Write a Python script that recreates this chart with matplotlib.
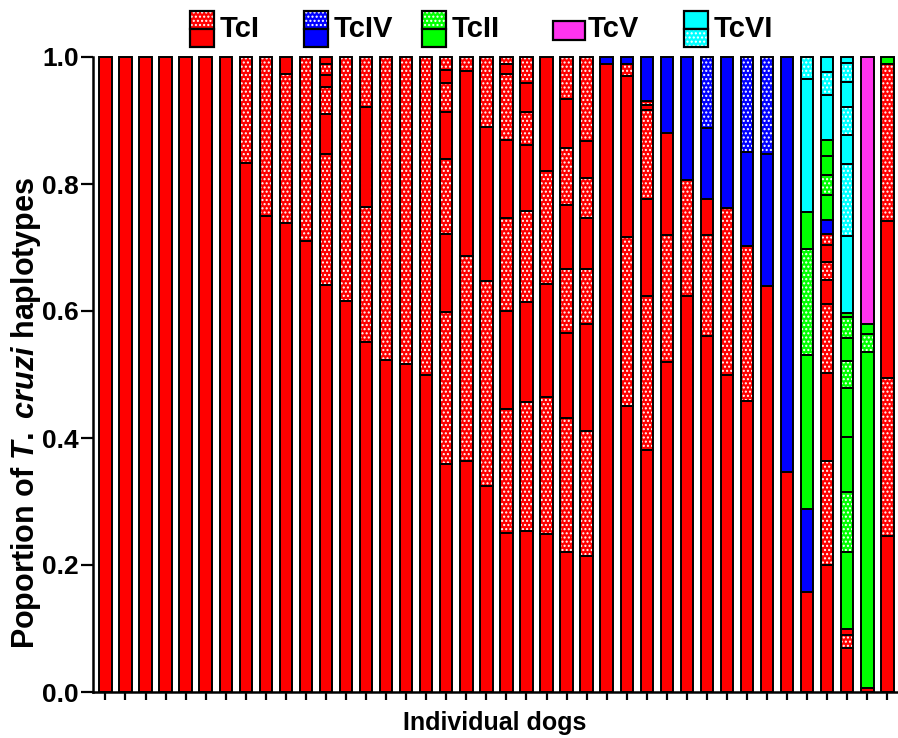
import numpy as np
import matplotlib
matplotlib.use('Agg')
import matplotlib.pyplot as plt
from matplotlib.patches import Rectangle

plt.rcParams['font.family'] = ['Liberation Sans', 'DejaVu Sans']
plt.rcParams['font.weight'] = 'bold'
plt.rcParams['mathtext.fontset'] = 'custom'
plt.rcParams['mathtext.it'] = 'Liberation Sans:italic:bold'
plt.rcParams['mathtext.rm'] = 'Liberation Sans:bold'
plt.rcParams['hatch.linewidth'] = 1.0

# haplotype code of each stacked segment, bottom to top
# upper-case = solid fill, lower-case = dotted fill
types = [
    ['I'], ['I'], ['I'], ['I'], ['I'], ['I'], ['I'],
    ['I', 'i'],
    ['I', 'i'],
    ['I', 'i', 'I'],
    ['I', 'i'],
    ['I', 'i', 'I', 'i', 'I', 'i', 'I'],
    ['I', 'i'],
    ['I', 'i', 'I', 'i'],
    ['I', 'i'],
    ['I', 'i'],
    ['I', 'i'],
    ['I', 'i', 'I', 'i', 'I', 'i', 'I', 'i'],
    ['I', 'i', 'I', 'i'],
    ['I', 'i', 'I', 'i'],
    ['I', 'i', 'I', 'i', 'I', 'i', 'I', 'i'],
    ['I', 'i', 'I', 'i', 'I', 'i', 'I', 'i'],
    ['I', 'i', 'I', 'i', 'I'],
    ['I', 'i', 'I', 'i', 'I', 'i', 'I', 'i'],
    ['I', 'i', 'I', 'i', 'I', 'i', 'I', 'i'],
    ['I', 'IV'],
    ['I', 'i', 'I', 'i', 'IV'],
    ['I', 'i', 'I', 'i', 'I', 'i', 'IV'],
    ['I', 'i', 'I', 'IV'],
    ['I', 'i', 'IV'],
    ['I', 'i', 'I', 'IV', 'iv'],
    ['I', 'i', 'IV'],
    ['I', 'i', 'IV', 'iv'],
    ['I', 'IV', 'iv'],
    ['I', 'IV'],
    ['I', 'IV', 'II', 'ii', 'II', 'VI', 'vi'],
    ['I', 'i', 'I', 'i', 'I', 'i', 'I', 'i', 'IV', 'II', 'ii', 'II', 'II', 'VI', 'vi', 'VI'],
    ['I', 'i', 'I', 'II', 'ii', 'II', 'II', 'ii', 'II', 'ii', 'II', 'VI', 'vi', 'VI', 'vi', 'VI', 'vi', 'VI'],
    ['I', 'II', 'ii', 'II', 'V'],
    ['I', 'i', 'I', 'i', 'II'],
]

# cumulative proportion at the top of each segment
cum = [
    [1.0], [1.0], [1.0], [1.0], [1.0], [1.0], [1.0],
    [0.833, 1.0],
    [0.750, 1.0],
    [0.738, 0.974, 1.0],
    [0.710, 1.0],
    [0.641, 0.847, 0.910, 0.952, 0.972, 0.989, 1.0],
    [0.616, 1.0],
    [0.551, 0.763, 0.922, 1.0],
    [0.523, 1.0],
    [0.517, 1.0],
    [0.499, 1.0],
    [0.359, 0.598, 0.722, 0.839, 0.914, 0.959, 0.980, 1.0],
    [0.364, 0.686, 0.978, 1.0],
    [0.324, 0.647, 0.890, 1.0],
    [0.251, 0.445, 0.600, 0.747, 0.870, 0.973, 0.989, 1.0],
    [0.254, 0.456, 0.614, 0.758, 0.861, 0.914, 0.959, 1.0],
    [0.249, 0.464, 0.642, 0.821, 1.0],
    [0.220, 0.432, 0.566, 0.666, 0.767, 0.856, 0.934, 1.0],
    [0.214, 0.411, 0.579, 0.666, 0.747, 0.809, 0.868, 1.0],
    [0.989, 1.0],
    [0.450, 0.717, 0.970, 0.989, 1.0],
    [0.381, 0.624, 0.777, 0.917, 0.924, 0.930, 1.0],
    [0.520, 0.720, 0.881, 1.0],
    [0.624, 0.807, 1.0],
    [0.560, 0.719, 0.776, 0.888, 1.0],
    [0.500, 0.762, 1.0],
    [0.458, 0.702, 0.851, 1.0],
    [0.639, 0.847, 1.0],
    [0.347, 1.0],
    [0.158, 0.288, 0.531, 0.697, 0.756, 0.966, 1.0],
    [0.200, 0.363, 0.503, 0.611, 0.649, 0.677, 0.704, 0.722, 0.744, 0.783, 0.814, 0.844, 0.870, 0.940, 0.977, 1.0],
    [0.069, 0.090, 0.099, 0.221, 0.315, 0.402, 0.478, 0.522, 0.557, 0.591, 0.597, 0.718, 0.831, 0.877, 0.922, 0.960, 0.990, 1.0],
    [0.006, 0.536, 0.563, 0.580, 1.0],
    [0.246, 0.494, 0.742, 0.989, 1.0],
]

colors = {'I': '#ff0000', 'IV': '#0000ff', 'II': '#00ff00', 'V': '#ff33ee', 'VI': '#00ffff'}
legend_names = ['TcI', 'TcIV', 'TcII', 'TcV', 'TcVI']

W, H = 898, 738
fig = plt.figure(figsize=(W / 100, H / 100), dpi=100)
ax = fig.add_axes([93 / W, 46 / H, 804 / W, 635 / H])

width = 0.62
xs, bots, hts, kinds = [], [], [], []
for i, (t, c) in enumerate(zip(types, cum)):
    tops = np.array(c)
    bottoms = np.concatenate([[0], tops[:-1]])
    for k, b, top in zip(t, bottoms, tops):
        xs.append(i)
        bots.append(b)
        hts.append(top - b)
        kinds.append(k)
xs = np.array(xs)
bots = np.array(bots)
hts = np.array(hts)
kinds = np.array(kinds)

for k in ['I', 'i', 'IV', 'iv', 'II', 'ii', 'V', 'VI', 'vi']:
    m = kinds == k
    if not m.any():
        continue
    dotted = k.islower()
    ax.bar(xs[m], hts[m], bottom=bots[m], width=width, color=colors[k.upper()],
           edgecolor='white', linewidth=0, hatch='....' if dotted else None)

ax.bar(xs, hts, bottom=bots, width=width, fill=False, edgecolor='black',
       linewidth=1.4, clip_on=False)

ax.set_xlim(-0.62, 39.48)
ax.set_ylim(0, 1.0)
ax.set_xticks(np.arange(len(types)))
ax.set_xticklabels([])
ax.set_yticks([0, 0.2, 0.4, 0.6, 0.8, 1.0])
ax.set_yticklabels(['0.0', '0.2', '0.4', '0.6', '0.8', '1.0'], fontsize=19, fontweight='bold')
ax.tick_params(axis='y', length=9, width=1.6, pad=1)
ax.tick_params(axis='x', length=6, width=1.6)
for s in ['top', 'right']:
    ax.spines[s].set_visible(False)
for s in ['left', 'bottom']:
    ax.spines[s].set_linewidth(1.8)

ax.set_ylabel(r'Poportion of $T.$ $cruzi$ haplotypes', fontsize=22, fontweight='bold')
ax.yaxis.set_label_coords(-0.062, 0.44)
ax.set_xlabel('Individual dogs', fontsize=18, fontweight='bold', labelpad=4)

# legend drawn in pixel coordinates above the axes
def px(x, y):
    return x / W, 1 - y / H

def box(x, y, w, h, code):
    col = colors[code.upper()]
    fx, fy = px(x, y + h)
    r = Rectangle((fx, fy), w / W, h / H, transform=fig.transFigure,
                  facecolor=col, edgecolor='white', linewidth=0,
                  hatch='....' if code.islower() else None)
    fig.add_artist(r)
    fig.add_artist(Rectangle((fx, fy), w / W, h / H, transform=fig.transFigure,
                             fill=False, edgecolor='black', linewidth=1.6))

entries = [
    (190, ['i', 'I']),
    (304, ['iv', 'IV']),
    (422, ['ii', 'II']),
    (553, ['V']),
    (684, ['VI', 'vi']),
]
for (x0, codes), name in zip(entries, legend_names):
    if len(codes) == 2:
        box(x0, 11, 24, 18, codes[0])
        box(x0, 29, 24, 18, codes[1])
        tx = x0 + 30
    else:
        box(x0, 21, 32, 19, codes[0])
        tx = x0 + 35
    fig.text(*px(tx, 29), name, fontsize=21, fontweight='bold', va='center', ha='left')

fig.savefig('out.png', dpi=100)
